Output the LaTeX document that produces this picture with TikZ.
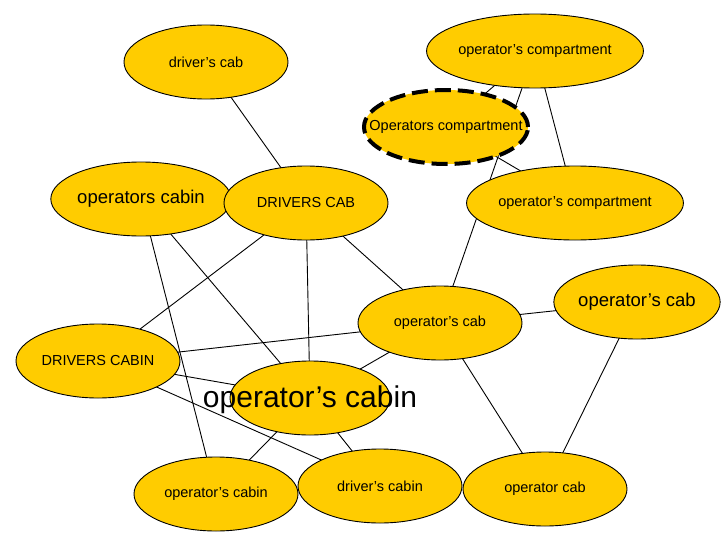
\documentclass[tikz,border=0pt]{standalone}
\usepackage{fontspec}
\setmainfont[Ligatures=NoCommon]{Liberation Sans}
\usetikzlibrary{shapes.geometric}
\definecolor{nodefill}{RGB}{255,204,0}
\newcommand{\ap}{\symbol{39}}
\begin{document}
\begin{tikzpicture}[x=1pt,y=-1pt,
  el/.style={ellipse,draw=black,line width=0.9pt,fill=nodefill,minimum width=164pt,minimum height=74pt,inner sep=0pt,font=\fontsize{14.5}{16}\selectfont},
  big/.style={font=\fontsize{18.5}{20}\selectfont},
  huge/.style={font=\fontsize{30}{32}\selectfont},
  dashnode/.style={line width=4pt,dash pattern=on 16pt off 7pt},
  lk/.style={draw=black,line width=0.9pt}]
\useasboundingbox (0,0) rectangle (725,538);
\draw[lk] (206,62) -- (306,203);
\draw[lk] (535,51) -- (446,127);
\draw[lk] (535,51) -- (575,203);
\draw[lk] (535,51) -- (440,323);
\draw[lk] (446,127) -- (575,203);
\draw[lk] (141,199) -- (310,398);
\draw[lk] (141,199) -- (216,494);
\draw[lk] (306,203) -- (98,361);
\draw[lk] (306,203) -- (310,398);
\draw[lk] (306,203) -- (440,323);
\draw[lk] (440,323) -- (98,361);
\draw[lk] (440,323) -- (637,302);
\draw[lk] (440,323) -- (545,489);
\draw[lk] (440,323) -- (310,398);
\draw[lk] (637,302) -- (545,489);
\draw[lk] (98,361) -- (310,398);
\draw[lk] (98,361) -- (380,486);
\draw[lk] (310,398) -- (216,494);
\draw[lk] (310,398) -- (380,486);
\node[el] (a) at (206,62) {driver\ap s cab};
\node[el] (b) at (535,51) {operator\ap s compartment};
\node[el] (d) at (141,199) [big] {operators cabin};
\node[el] (e) at (306,203) {DRIVERS CAB};
\node[el,minimum width=174pt] (f) at (575,203) {operator’s compartment};
\node[el] (g) at (440,323) {operator\ap s cab};
\node[el] (h) at (637,302) [big] {operator’s cab};
\node[el] (i) at (98,361) {DRIVERS CABIN};
\node[el,minimum width=160pt] (j) at (310,398) {};
\node[el] (k) at (216,494) {operator’s cabin};
\node[el] (l) at (380,486) {driver\ap s cabin};
\node[el] (m) at (545,489) {operator cab};
\node[el,dashnode] (c) at (446,127) {};
\node at (446,127) [font=\fontsize{14.5}{16}\selectfont] {Operators compartment};
\node at (310,400) [huge] {operator\ap s cabin};
\end{tikzpicture}
\end{document}
